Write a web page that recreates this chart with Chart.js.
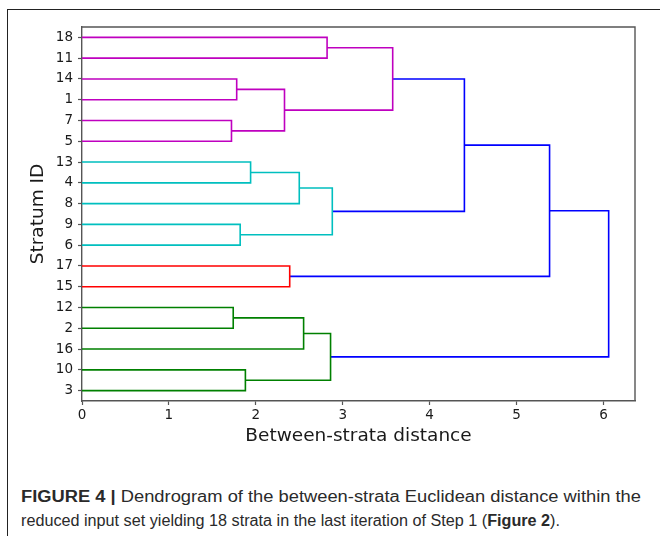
<!DOCTYPE html>
<html><head><meta charset="utf-8">
<script src="https://cdn.jsdelivr.net/npm/chart.js@4.4.1/dist/chart.umd.min.js"></script>
<style>
html,body{margin:0;padding:0;background:#fff;}
body{width:660px;height:536px;position:relative;overflow:hidden;}
#frame{position:absolute;left:7px;top:9px;width:700px;height:600px;border-top:1px solid #222;border-left:1px solid #222;}
#wrap{position:absolute;left:0;top:0;width:660px;height:460px;}
.cap{position:absolute;left:21px;font-family:"Liberation Sans",Arial,sans-serif;font-size:16px;color:#2a2a2a;white-space:nowrap;transform-origin:0 50%;line-height:18px;}
</style></head><body>
<div id="frame"></div>
<div id="wrap"><canvas id="c" style="width:660px;height:460px"></canvas></div>
<div class="cap" id="l1" style="top:488px"><b>FIGURE 4 |</b> Dendrogram of the between-strata Euclidean distance within the</div>
<div class="cap" id="l2" style="top:512px">reduced input set yielding 18 strata in the last iteration of Step 1 (<b>Figure 2</b>).</div>
<script>
// ---- data ----
const leafLabels = ['18','11','14','1','7','5','13','4','8','9','6','17','15','12','2','16','10','3']; // top to bottom
const mergeLeft   = ['18','14','7','m1','m0','13','m5','9','m6','m4','17','m9','12','m12','10','m13','m11'];
const mergeRight  = ['11','1','5','m2','m3','4','8','6','m7','m8','15','m10','2','16','3','m14','m15'];
const mergeHeight = [2.82,1.78,1.72,2.33,3.575,1.94,2.50,1.82,2.88,4.40,2.39,5.38,1.74,2.55,1.88,2.86,6.06];
const mergeCluster= ['A','A','A','A','A','B','B','B','B','above','C','above','D','D','D','D','above'];
const xTicks = [0,1,2,3,4,5,6];
const xLabel = 'Between-strata distance';
const yLabel = 'Stratum ID';

// ---- styles ----
const clusterColor = {A:'#bf00bf', B:'#00bfbf', C:'#ff0000', D:'#008000', above:'#0000ff'};

const n = leafLabels.length;
const nodeY = {}, nodeX = {};
leafLabels.forEach((l,i)=>{ nodeY[l] = 10*(n-1-i)+5; nodeX[l] = 0; });
const datasets = [];
mergeHeight.forEach((h,k)=>{
  const a = mergeLeft[k], b = mergeRight[k];
  const ya = nodeY[a], yb = nodeY[b];
  nodeY['m'+k] = (ya+yb)/2; nodeX['m'+k] = h;
  datasets.push({
    data:[{x:nodeX[a],y:ya},{x:h,y:ya},{x:h,y:yb},{x:nodeX[b],y:yb}],
    showLine:true, borderColor:clusterColor[mergeCluster[k]], borderWidth:1.6,
    pointRadius:0, tension:0, fill:false, clip:false
  });
});
const leafPos = leafLabels.map(l=>nodeY[l]);
const xMax = Math.max(...mergeHeight)*1.05;

Chart.defaults.font.family = 'DejaVu Sans';
const spines = {id:'spines', afterDraw(chart){
  const {ctx, chartArea:a} = chart;
  ctx.save(); ctx.strokeStyle='#555'; ctx.lineWidth=1.4;
  ctx.beginPath(); ctx.moveTo(a.left,a.top); ctx.lineTo(a.right,a.top); ctx.lineTo(a.right,a.bottom); ctx.stroke();
  ctx.restore();
}};
new Chart(document.getElementById('c'), {
  type:'scatter',
  data:{datasets},
  plugins:[spines],
  options:{
    responsive:false, animation:false,
    layout:{padding:{top:27,right:25,left:0,bottom:0}},
    plugins:{legend:{display:false}, tooltip:{enabled:false}},
    scales:{
      x:{type:'linear', min:0, max:xMax,
        afterBuildTicks:s=>{ s.ticks = xTicks.map(v=>({value:v})); },
        afterFit:s=>{ s.height = 59; },
        grid:{drawOnChartArea:false, drawTicks:true, tickLength:4, color:'#555', tickWidth:1.2},
        border:{display:true, color:'#555', width:1.4},
        ticks:{color:'#1a1a1a', font:{size:13.5}, padding:2, maxRotation:0, callback:v=>String(v)},
        title:{display:true, text:xLabel, color:'#1a1a1a', font:{size:18.5}, padding:{top:0,bottom:13}}
      },
      y:{type:'linear', min:0, max:10*n,
        afterBuildTicks:s=>{ s.ticks = leafPos.map(v=>({value:v})); },
        afterFit:s=>{ s.width = 82; },
        grid:{drawOnChartArea:false, drawTicks:true, tickLength:4, color:'#555', tickWidth:1.2},
        border:{display:true, color:'#555', width:1.4},
        ticks:{color:'#1a1a1a', font:{size:13.5}, padding:5, autoSkip:false,
          callback:v=>leafLabels[leafPos.indexOf(v)] },
        title:{display:true, text:yLabel, color:'#1a1a1a', font:{size:18.5}, padding:{top:27,bottom:0}}
      }
    }
  }
});
// caption line widths to match reference
[['l1',620],['l2',539]].forEach(([id,w])=>{
  const el=document.getElementById(id); const cw=el.getBoundingClientRect().width;
  el.style.transform='scaleX('+(w/cw)+')';
});
</script>
</body></html>
